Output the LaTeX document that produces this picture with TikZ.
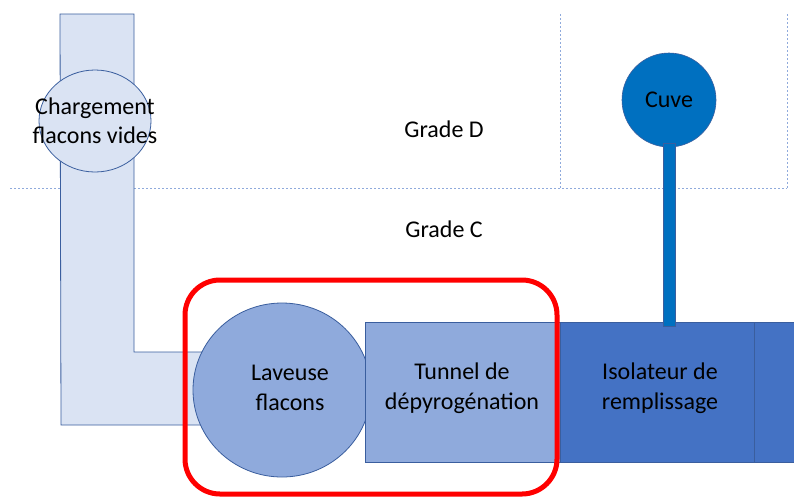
\documentclass[tikz,border=0pt]{standalone}
\usepackage{fontspec}
\setmainfont{Carlito}
\usetikzlibrary{shapes.geometric}
\definecolor{pipefill}{HTML}{DAE3F3}
\definecolor{midfill}{HTML}{8FAADC}
\definecolor{darkfill}{HTML}{4472C4}
\definecolor{edgeblue}{HTML}{3A5E9E}
\definecolor{cuveblue}{HTML}{0070C0}
\definecolor{dotblue}{HTML}{8FAADC}
\tikzset{
  lbl/.style={font=\fontsize{24}{29.5}\selectfont, align=center, text=black, inner sep=0},
  zoneline/.style={draw=dotblue, line width=1pt, dash pattern=on 2pt off 2pt},
  pipe/.style={fill=pipefill, draw=edgeblue, line width=0.8pt},
  midbox/.style={fill=midfill, draw=edgeblue, line width=0.8pt},
  darkbox/.style={fill=darkfill, draw=edgeblue, line width=0.8pt},
  redframe/.style={draw=red, line width=5pt, rounded corners=35pt}
}
\begin{document}
\begin{tikzpicture}[x=1pt,y=-1pt]
\clip (0,0) rectangle (794,496);
\fill[white] (0,0) rectangle (794,496);
% zone boundaries
\coordinate (zl) at (10,188);
\coordinate (zr) at (787,188);
\coordinate (zt1) at (560,14);
\coordinate (zb1) at (560,188);
\coordinate (zt2) at (787,14);
\draw[zoneline] (zl) -- (zr);
\draw[zoneline] (zt1) -- (zb1);
\draw[zoneline] (zt2) -- (zr);
% pipe
\draw[pipe] (60,14) -- (134,14) -- (134,352) -- (240,352) -- (240,425) -- (61,425) -- cycle;
\node[ellipse, pipe, minimum width=112, minimum height=102, inner sep=0] (chargement) at (95,121) {};
\node[lbl] (chargementtxt) at (chargement) {Chargement\\flacons vides};
% labels
\node[lbl] (gradeD) at (444,129) {Grade D};
\node[lbl] (gradeC) at (444,229) {Grade C};
% process
\node[ellipse, midbox, minimum width=178, minimum height=174, inner sep=0] (laveuse) at (282,390) {};
\node[lbl] (laveusetxt) at (290,388) {Laveuse\\flacons};
\node[rectangle, midbox, minimum width=195, minimum height=140, inner sep=0, anchor=north west] (tunnel) at (365,322) {};
\node[lbl] at (462,388) {Tunnel de\\dépyrogénation};
\node[rectangle, darkbox, minimum width=194, minimum height=140, inner sep=0, anchor=north west] (isolateur) at (560,322) {};
\node[lbl] at (660,388) {Isolateur de\\remplissage};
\node[rectangle, darkbox, minimum width=60, minimum height=140, inner sep=0, anchor=north west] (suite) at (754,322) {};
% cuve
\node[circle, fill=cuveblue, draw=edgeblue, line width=0.6pt, minimum size=94, inner sep=0] (cuve) at (669,100) {};
\node[lbl] at (cuve) {Cuve};
\draw[fill=cuveblue, draw=edgeblue, line width=0.6pt] ([xshift=-6pt]cuve.south |- 0,143) rectangle ([xshift=6pt]cuve.south |- 0,326);
% highlight
\draw[redframe] (185,280) rectangle (557,494);
\end{tikzpicture}
\end{document}
